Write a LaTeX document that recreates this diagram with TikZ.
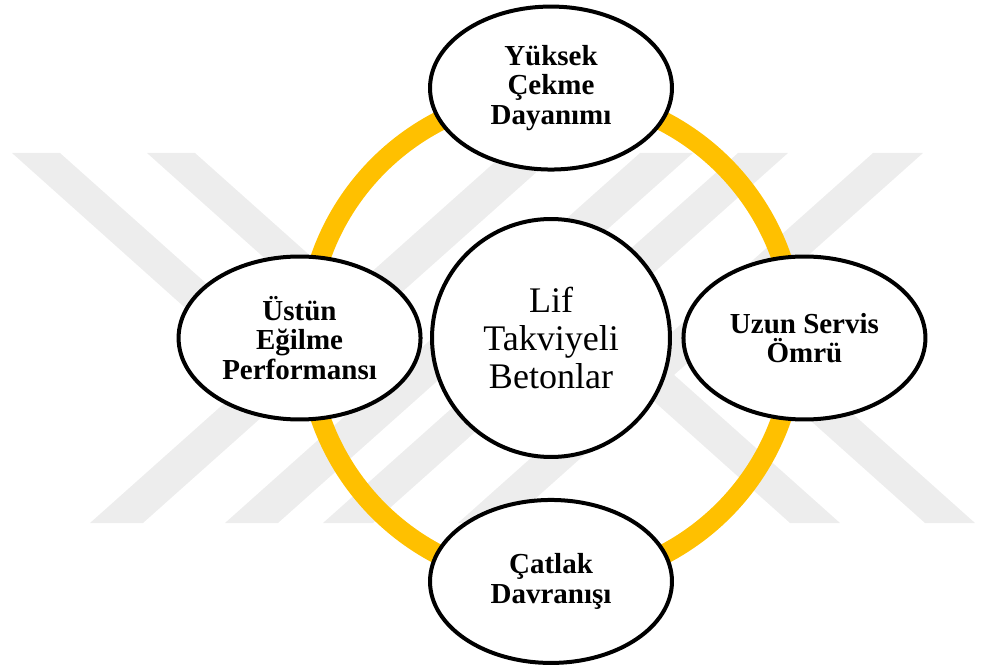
\documentclass[tikz,border=0pt]{standalone}
\usepackage{fontspec}
\setmainfont{Liberation Serif}
\usetikzlibrary{shapes.geometric, positioning}
\definecolor{ringgold}{RGB}{255,192,0}
\definecolor{markgray}{RGB}{237,237,237}

\begin{document}
\begin{tikzpicture}[
        x=0.02cm, y=-0.02cm, on grid,
        hub/.style={draw, circle, line width=0.08cm, fill=white, minimum size=4.76cm,
            align=center, font=\fontsize{20.5}{21.7}\selectfont},
        topic/.style={draw, ellipse, line width=0.08cm, fill=white, minimum width=4.84cm,
            minimum height=3.26cm, align=center, font=\bfseries\fontsize{16.5}{16.8}\selectfont},
        goldring/.style={draw=ringgold, line width=0.4cm},
        wmark/.style={fill=markgray}
    ]
        \useasboundingbox (0,0) rectangle (981,672);

        % Watermark
        \foreach \o in {0,135} {
            \fill[wmark] (90+\o,523) -- (143+\o,523) -- (558+\o,153) -- (505+\o,153) -- cycle;
            \fill[wmark] (12+\o,153) -- (60+\o,153) -- (282+\o,351) -- (258+\o,373) -- cycle;
            \fill[wmark] (738+\o,153) -- (788+\o,153) -- (373+\o,523) -- (323+\o,523) -- cycle;
            \fill[wmark] (790+\o,523) -- (840+\o,523) -- (607+\o,315) -- (582+\o,337) -- cycle;
        }

        % Ring
        \coordinate (mid) at (551,338);
        \draw[goldring] (mid) circle [radius=4.88cm];

        % Nodes
        \node[hub] (hub) at (mid) {Lif\\Takviyeli\\Betonlar};
        \node[topic, above=5cm of hub] (tensile) {Yüksek\\Çekme\\Dayanımı};
        \node[topic, right=5.07cm of hub] (life) {Uzun Servis\\Ömrü};
        \node[topic, below=4.87cm of hub] (crack) {Çatlak\\Davranışı};
        \node[topic, left=5.03cm of hub] (bending) {Üstün\\Eğilme\\Performansı};
    \end{tikzpicture}
\end{document}
